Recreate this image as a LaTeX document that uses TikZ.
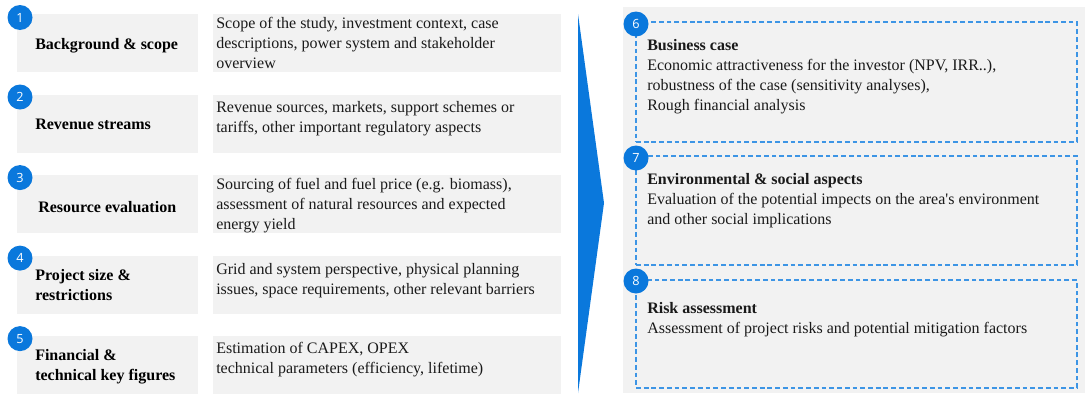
\documentclass[tikz,border=0pt]{standalone}
\usepackage{fontspec}
\setmainfont{Liberation Serif}
\setsansfont{Open Sans}
\usepackage{xcolor}
\definecolor{cBlue}{HTML}{0A78DC}
\definecolor{cDash}{HTML}{3D95E5}
\definecolor{cPanel}{HTML}{F2F2F2}
\definecolor{cInk}{HTML}{1A1A1A}
\usepackage{tikz}
\usetikzlibrary{positioning}
\tikzset{
  topic-box/.style={fill=cPanel,inner sep=0pt,outer sep=0pt,
    minimum width=135.75pt,minimum height=43.5pt},
  desc-box/.style={topic-box,minimum width=261pt},
  case-box/.style={draw=cDash,line width=1pt,dash pattern=on 3.6pt off 2.2pt,
    inner sep=0pt,outer sep=0pt,minimum width=330.75pt},
  num-badge/.style={circle,fill=cBlue,text=white,inner sep=0pt,
    minimum size=18.75pt,font=\sffamily\fontsize{9.5}{10}\selectfont},
  % base west sits on the last line of a multi-line label
  topic-label/.style={anchor=base west,align=left,inner sep=0pt,text=black,
    font=\fontsize{12}{15}\selectfont\bfseries},
  desc-label/.style={anchor=base west,align=left,inner sep=0pt,text=cInk,
    font=\fontsize{12}{15}\selectfont},
}

\begin{document}
\begin{tikzpicture}[x=0.75pt,y=-0.75pt,node distance=16.9pt and 11.25pt]
  \useasboundingbox (0,0) rectangle (1085,393);

  % left column: topic boxes and their descriptions
  \node[topic-box,anchor=north west] (t1) at (17,14) {};
  \node[topic-box,below=of t1] (t2) {};
  \node[topic-box,below=of t2] (t3) {};
  \node[topic-box,below=of t3] (t4) {};
  \node[topic-box,below=of t4] (t5) {};
  \node[desc-box,right=of t1] (d1) {};
  \node[desc-box,right=of t2] (d2) {};
  \node[desc-box,right=of t3] (d3) {};
  \node[desc-box,right=of t4] (d4) {};
  \node[desc-box,right=of t5] (d5) {};

  \node[topic-label] (l1) at ([shift={(18,35)}]t1.north west) {Background \& scope};
  \node[topic-label] (l2) at ([shift={(18,35)}]t2.north west) {Revenue streams};
  \node[topic-label] (l3) at ([shift={(21,37)}]t3.north west) {Resource evaluation};
  \node[topic-label] (l4) at ([shift={(18,45)}]t4.north west) {Project size \&\\restrictions};
  \node[topic-label] (l5) at ([shift={(18,44)}]t5.north west) {Financial \&\\technical key figures};

  \node[desc-label] (e1) at ([shift={(3,54)}]d1.north west)
    {Scope of the study, investment context, case\\descriptions, power system and stakeholder\\overview};
  \node[desc-label] (e2) at ([shift={(3,38)}]d2.north west)
    {Revenue sources, markets, support schemes or\\tariffs, other important regulatory aspects};
  \node[desc-label] (e3) at ([shift={(3,54)}]d3.north west)
    {Sourcing of fuel and fuel price (e.g. biomass),\\assessment of natural resources and expected\\energy yield};
  \node[desc-label] (e4) at ([shift={(3,39)}]d4.north west)
    {Grid and system perspective, physical planning\\issues, space requirements, other relevant barriers};
  \node[desc-label] (e5) at ([shift={(3,37)}]d5.north west)
    {Estimation of CAPEX, OPEX\\technical parameters (efficiency, lifetime)};

  \node[num-badge] (n1) at ([shift={(3,3.5)}]t1.north west) {1};
  \node[num-badge] (n2) at ([shift={(3,2.5)}]t2.north west) {2};
  \node[num-badge] (n3) at ([shift={(3,2.5)}]t3.north west) {3};
  \node[num-badge] (n4) at ([shift={(3,2.5)}]t4.north west) {4};
  \node[num-badge] (n5) at ([shift={(3,2.5)}]t5.north west) {5};

  % wedge pointing to the case assessment
  \fill[cBlue] (578,14) -- (604,203) -- (578,393) -- cycle;

  % right panel with the case assessment
  \fill[cPanel] (623,7) rectangle (1085,393);
  \node[case-box,minimum height=90pt,anchor=north west] (c6) at (636,22) {};
  \node[case-box,minimum height=81.75pt,below=10.5pt of c6] (c7) {};
  \node[case-box,minimum height=81pt,below=11.25pt of c7] (c8) {};

  \node[desc-label] (k6) at ([shift={(11,88.5)}]c6.north west)
    {\textbf{Business case}\\Economic attractiveness for the investor (NPV, IRR..),\\robustness of the case (sensitivity analyses),\\Rough financial analysis};
  \node[desc-label] (k7) at ([shift={(11,68)}]c7.north west)
    {\textbf{Environmental \& social aspects}\\Evaluation of the potential impects on the area\textquotesingle s environment\\and other social implications};
  \node[desc-label] (k8) at ([shift={(11,53)}]c8.north west)
    {\textbf{Risk assessment}\\Assessment of project risks and potential mitigation factors};

  \node[num-badge] (n6) at ([shift={(0,2)}]c6.north west) {6};
  \node[num-badge] (n7) at ([shift={(0,2)}]c7.north west) {7};
  \node[num-badge] (n8) at ([shift={(0,1)}]c8.north west) {8};
\end{tikzpicture}
\end{document}
